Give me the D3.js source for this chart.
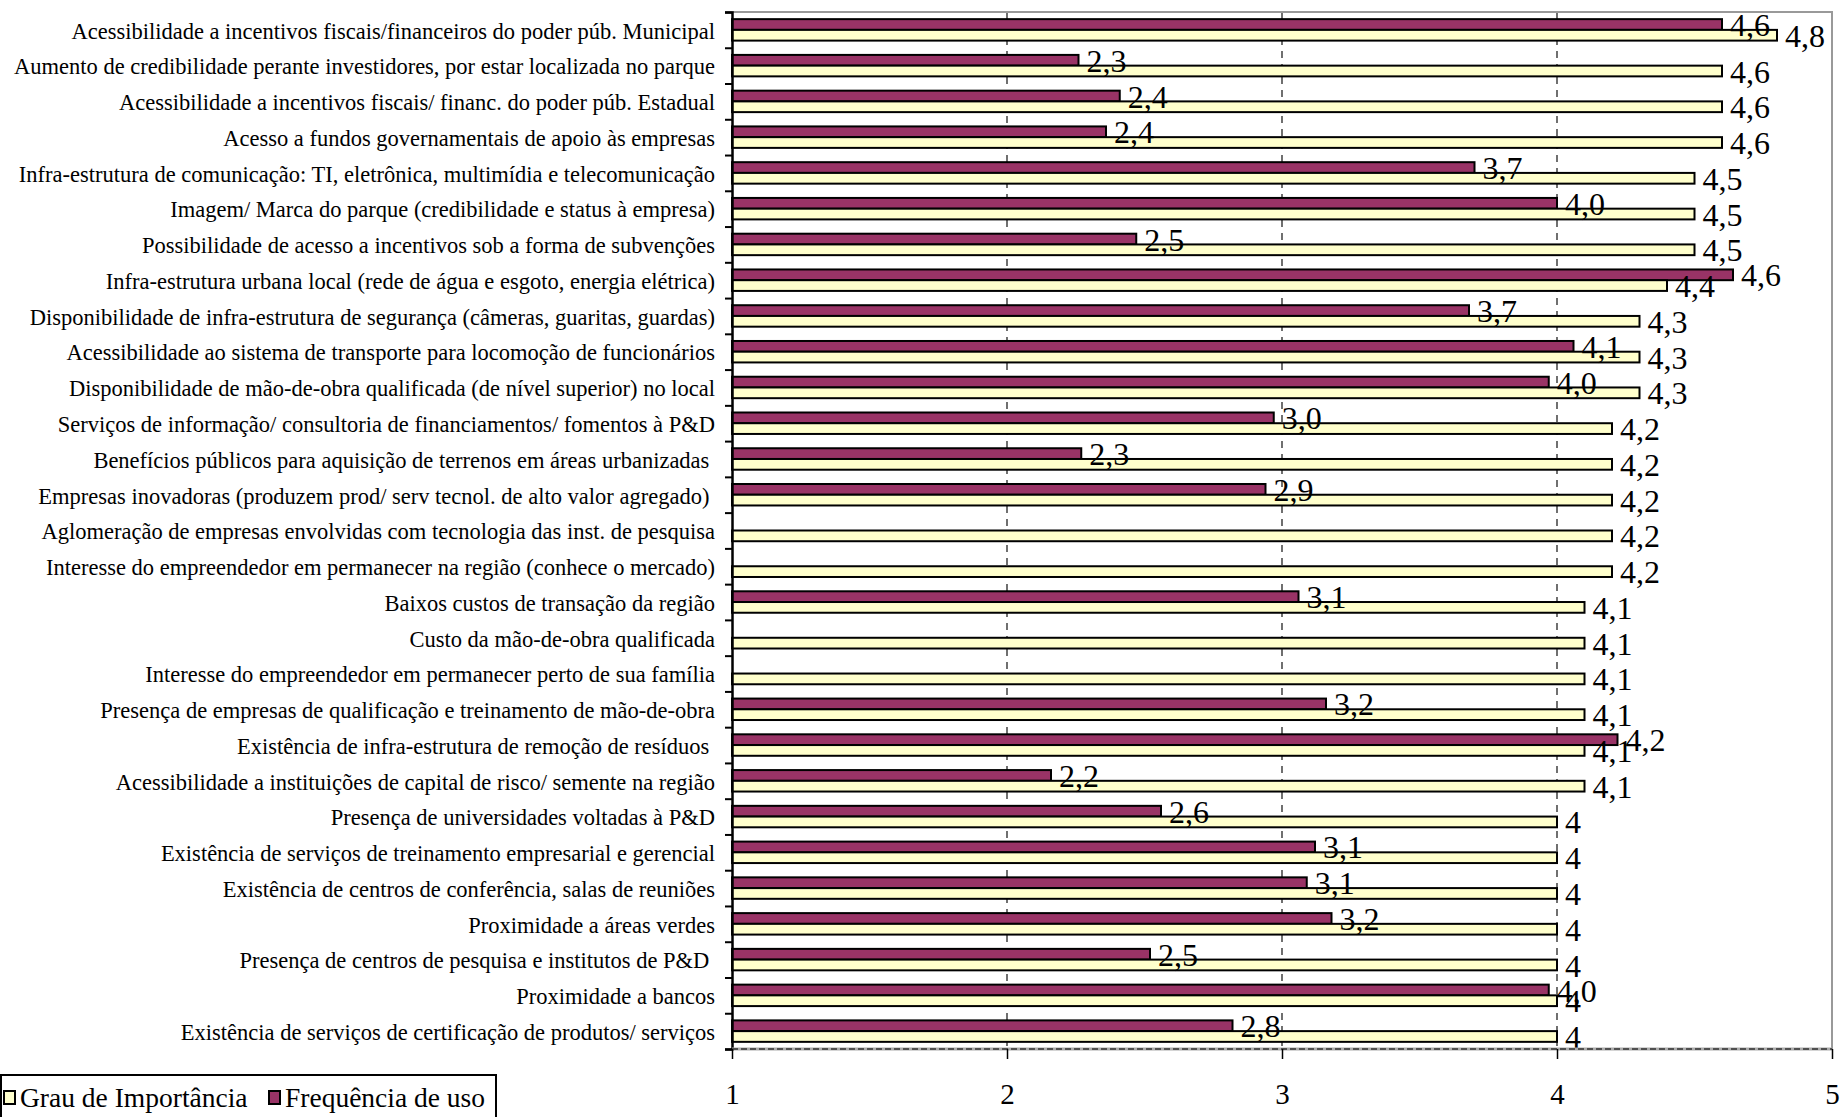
<!DOCTYPE html>
<html>
<head>
<meta charset="utf-8">
<script src="https://cdn.jsdelivr.net/npm/d3@7"></script>
<style>
  html, body { margin: 0; padding: 0; background: #fff; }
  svg { display: block; }
  text { font-family: "Liberation Serif", "Times New Roman", serif; fill: #000; }
</style>
</head>
<body>
<svg id="chart" width="1842" height="1117"></svg>
<script>
// Factors, listed top to bottom
const categories = [
  "Acessibilidade a incentivos fiscais/financeiros do poder púb. Municipal",
  "Aumento de credibilidade perante investidores, por estar localizada no parque",
  "Acessibilidade a incentivos fiscais/ financ. do poder púb. Estadual",
  "Acesso a fundos governamentais de apoio às empresas",
  "Infra-estrutura de comunicação: TI, eletrônica, multimídia e telecomunicação",
  "Imagem/ Marca do parque (credibilidade e status à empresa)",
  "Possibilidade de acesso a incentivos sob a forma de subvenções",
  "Infra-estrutura urbana local (rede de água e esgoto, energia elétrica)",
  "Disponibilidade de infra-estrutura de segurança (câmeras, guaritas, guardas)",
  "Acessibilidade ao sistema de transporte para locomoção de funcionários",
  "Disponibilidade de mão-de-obra qualificada (de nível superior) no local",
  "Serviços de informação/ consultoria de financiamentos/ fomentos à P&D",
  "Benefícios públicos para aquisição de terrenos em áreas urbanizadas ",
  "Empresas inovadoras (produzem prod/ serv tecnol. de alto valor agregado) ",
  "Aglomeração de empresas envolvidas com tecnologia das inst. de pesquisa",
  "Interesse do empreendedor em permanecer na região (conhece o mercado)",
  "Baixos custos de transação da região",
  "Custo da mão-de-obra qualificada",
  "Interesse do empreendedor em permanecer perto de sua família",
  "Presença de empresas de qualificação e treinamento de mão-de-obra",
  "Existência de infra-estrutura de remoção de resíduos ",
  "Acessibilidade a instituições de capital de risco/ semente na região",
  "Presença de universidades voltadas à P&D",
  "Existência de serviços de treinamento empresarial e gerencial",
  "Existência de centros de conferência, salas de reuniões",
  "Proximidade a áreas verdes",
  "Presença de centros de pesquisa e institutos de P&D ",
  "Proximidade a bancos",
  "Existência de serviços de certificação de produtos/ serviços"
];

// Grau de Importância (mean score)
const importancia = [
  4.8, 4.6, 4.6, 4.6, 4.5, 4.5, 4.5, 4.4, 4.3, 4.3, 4.3,
  4.2, 4.2, 4.2, 4.2, 4.2,
  4.1, 4.1, 4.1, 4.1, 4.1, 4.1,
  4, 4, 4, 4, 4, 4, 4
];

// Frequência de uso (mean score; null = not asked)
const frequencia = [
  4.60, 2.26, 2.41, 2.36, 3.70, 4.00, 2.47, 4.64, 3.68, 4.06, 3.97,
  2.97, 2.27, 2.94, null, null,
  3.06, null, null, 3.16, 4.22, 2.16,
  2.56, 3.12, 3.09, 3.18, 2.52, 3.97, 2.82
];

const xTicks = [1, 2, 3, 4, 5];

const seriesNames = ["Grau de Importância", "Frequência de uso"];
const colors = { imp: "#FFFFCC", freq: "#993366" };

// ---- layout ----
const plot = { left: 732, right: 1832, top: 12, bottom: 1049 };

const svg = d3.select("#chart");

const x = d3.scaleLinear().domain([1, 5]).range([plot.left, plot.right]);
const y = d3.scaleBand().domain(d3.range(categories.length))
  .range([plot.top, plot.bottom]).paddingInner(0.4).paddingOuter(0.2);
const ySub = d3.scaleBand().domain(["freq", "imp"]).range([0, y.bandwidth()]);
const yEdge = d3.scaleLinear().domain([0, categories.length]).range([plot.top, plot.bottom]);

const rows = categories.map((c, i) => ({ i, cat: c, imp: importancia[i], freq: frequencia[i] }));

// dashed vertical gridlines
svg.append("g")
  .selectAll("line")
  .data(xTicks.filter(t => t > 1 && t < 5))
  .join("line")
  .attr("x1", d => x(d)).attr("x2", d => x(d))
  .attr("y1", plot.top).attr("y2", plot.bottom)
  .attr("stroke", "#111").attr("stroke-width", 1.2)
  .attr("stroke-dasharray", "7,6");

// plot-area frame (top and right), gray
svg.append("path")
  .attr("d", `M${plot.left},${plot.top}H${plot.right}V${plot.bottom}`)
  .attr("fill", "none").attr("stroke", "#999").attr("stroke-width", 2);

// bars
const barGroups = svg.append("g").selectAll("g")
  .data(rows).join("g")
  .attr("transform", d => `translate(0,${y(d.i)})`);

barGroups.filter(d => d.freq != null).append("rect")
  .attr("x", x(1)).attr("y", ySub("freq"))
  .attr("width", d => x(d.freq) - x(1)).attr("height", ySub.bandwidth())
  .attr("fill", colors.freq).attr("stroke", "#000").attr("stroke-width", 2);

barGroups.append("rect")
  .attr("x", x(1)).attr("y", ySub("imp"))
  .attr("width", d => x(d.imp) - x(1)).attr("height", ySub.bandwidth())
  .attr("fill", colors.imp).attr("stroke", "#000").attr("stroke-width", 2);

// value labels
const fmtFreq = v => d3.format(".1f")(v).replace(".", ",");
const fmtImp = v => String(v).replace(".", ",");

barGroups.filter(d => d.freq != null).append("text")
  .attr("x", d => x(d.freq) + 8)
  .attr("y", ySub("freq") + ySub.bandwidth() / 2)
  .attr("dy", "0.36em")
  .style("font-size", "32px")
  .text(d => fmtFreq(d.freq));

barGroups.append("text")
  .attr("x", d => x(d.imp) + 8)
  .attr("y", ySub("imp") + ySub.bandwidth() / 2)
  .attr("dy", "0.36em")
  .style("font-size", "32px")
  .text(d => fmtImp(d.imp));

// left axis: line with ticks between categories
const leftAxis = svg.append("g")
  .attr("transform", `translate(${plot.left},0)`)
  .call(d3.axisLeft(yEdge).tickValues(d3.range(categories.length + 1)).tickSize(7).tickFormat(""));
leftAxis.selectAll("line").attr("stroke", "#000").attr("stroke-width", 2);
leftAxis.select(".domain").attr("stroke", "#000").attr("stroke-width", 2.5);

// category labels
const catAxis = svg.append("g")
  .attr("transform", `translate(${plot.left},0)`)
  .call(d3.axisLeft(y).tickSize(0).tickPadding(17).tickFormat(i => categories[i]));
catAxis.select(".domain").remove();
catAxis.selectAll("text")
  .attr("dy", "0.39em")
  .style("font-family", '"Liberation Serif", "Times New Roman", serif')
  .style("font-size", "22.5px")
  .style("white-space", "pre")
  .attr("fill", "#000");

// bottom axis
svg.append("line")
  .attr("x1", plot.left).attr("x2", plot.right)
  .attr("y1", plot.bottom).attr("y2", plot.bottom)
  .attr("stroke", "#aaa").attr("stroke-width", 3);
svg.append("line")
  .attr("x1", plot.left).attr("x2", plot.right)
  .attr("y1", plot.bottom).attr("y2", plot.bottom)
  .attr("stroke", "#333").attr("stroke-width", 1.5)
  .attr("stroke-dasharray", "6,3");

const bottomAxis = svg.append("g")
  .attr("transform", `translate(0,${plot.bottom})`)
  .call(d3.axisBottom(x).tickValues(xTicks).tickSize(10).tickPadding(24).tickFormat(d3.format("d")));
bottomAxis.select(".domain").remove();
bottomAxis.selectAll("line").attr("stroke", "#000").attr("stroke-width", 1.5);
bottomAxis.selectAll("text")
  .style("font-family", '"Liberation Serif", "Times New Roman", serif')
  .style("font-size", "29px")
  .attr("fill", "#000");

// legend
const legend = svg.append("g");
legend.append("rect")
  .attr("x", 1).attr("y", 1075).attr("width", 495).attr("height", 80)
  .attr("fill", "#fff").attr("stroke", "#000").attr("stroke-width", 2);

const legendItems = [
  { name: seriesNames[0], color: colors.imp, x: 0 },
  { name: seriesNames[1], color: colors.freq, x: 265 }
];
const li = legend.selectAll("g.item").data(legendItems).join("g").attr("class", "item")
  .attr("transform", d => `translate(${d.x},0)`);
li.append("rect")
  .attr("x", 4).attr("y", 1091).attr("width", 11).attr("height", 13)
  .attr("fill", d => d.color).attr("stroke", "#000").attr("stroke-width", 2);
li.append("text")
  .attr("x", 20).attr("y", 1107)
  .style("font-size", "27.5px")
  .text(d => d.name);
</script>
</body>
</html>
